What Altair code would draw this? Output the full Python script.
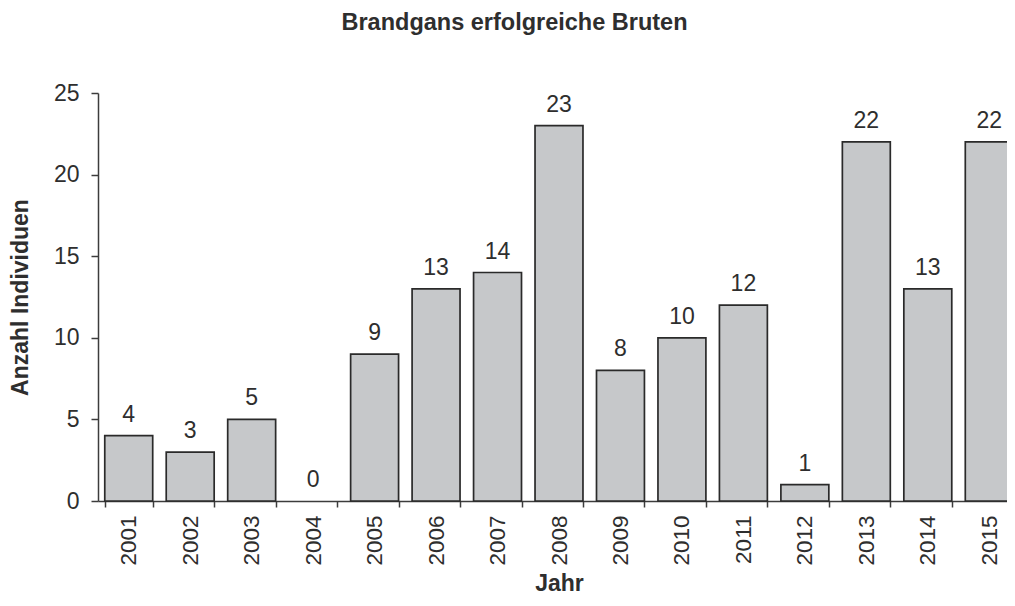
import altair as alt
import pandas as pd

years = ["2001", "2002", "2003", "2004", "2005", "2006", "2007", "2008",
         "2009", "2010", "2011", "2012", "2013", "2014", "2015"]
values = [4, 3, 5, 0, 9, 13, 14, 23, 8, 10, 12, 1, 22, 13, 22]
y_ticks = [0, 5, 10, 15, 20, 25]

df = pd.DataFrame({"Jahr": years, "Anzahl": values})

FONT = "Liberation Sans"
TXT = "#2e2e2e"
AX = "#3c3c3c"

base = alt.Chart(df)

x_enc = alt.X(
    "Jahr:N",
    sort=years,
    scale=alt.Scale(range=[0, 922], paddingInner=0.22, paddingOuter=0.11),
    axis=alt.Axis(
        title="Jahr", labelAngle=-90, labelFont=FONT, labelFontSize=22.5,
        labelColor=TXT, titleFont=FONT, titleFontSize=23, titleFontWeight="bold",
        titleColor=TXT, tickBand="extent", tickSize=6, labelPadding=8,
        titleBaseline="alphabetic", titleY=89,
        domainColor=AX, tickColor=AX, domainWidth=1.5,
        tickWidth=1.5, grid=False,
    ),
)
y_enc = alt.Y(
    "Anzahl:Q",
    scale=alt.Scale(domain=[0, 25], nice=False),
    axis=alt.Axis(
        title="Anzahl Individuen", values=y_ticks, labelFont=FONT,
        labelFontSize=23, labelColor=TXT, titleFont=FONT, titleFontSize=23,
        titleFontWeight="bold", titleColor=TXT, tickSize=7, labelPadding=12,
        titlePadding=21, domainColor=AX, tickColor=AX, domainWidth=1.5,
        tickWidth=1.5, grid=False,
    ),
)

bars = base.transform_filter("datum.Anzahl > 0").mark_bar(
    fill="#c6c8ca", stroke="#2a2a2a", strokeWidth=1.7
).encode(x=x_enc, y=y_enc)
labels = base.mark_text(
    baseline="alphabetic", dy=-14, font=FONT, fontSize=23, color=TXT
).encode(x=alt.X("Jahr:N", sort=years), y="Anzahl:Q", text="Anzahl:Q")

chart = (
    (bars + labels)
    .properties(
        width=909,
        height=408,
        title=alt.TitleParams(
            "Brandgans erfolgreiche Bruten", font=FONT, fontSize=23.5,
            fontWeight="bold", color=TXT, anchor="middle", dx=-38, offset=48,
        ),
        autosize=alt.AutoSizeParams(type="none"),
        padding={"left": 90, "top": 85, "right": 0, "bottom": 97},
    )
    .configure_view(stroke=None)
)

chart.save("out.html", embed_options={"renderer": "svg", "actions": False})
